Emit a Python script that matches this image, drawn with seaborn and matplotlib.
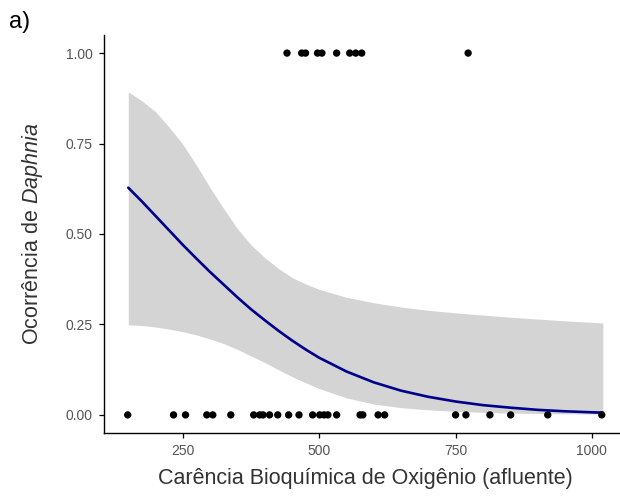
import numpy as np
import pandas as pd
import matplotlib
matplotlib.use("Agg")
import matplotlib.pyplot as plt
import seaborn as sns

# ---- data ----
cbo_absent = [149, 233, 255, 294, 305, 338, 380, 391, 397, 409, 424, 444, 463,
              488, 501, 509, 516, 532, 575, 580, 608, 620, 750, 769, 813, 851,
              919, 1018]
cbo_present = [441, 468, 475, 497, 505, 532, 556, 567, 578, 773]

fit_x = [150, 175, 200, 225, 250, 275, 300, 325, 350, 375, 400, 425, 450,
         475, 500, 550, 600, 650, 700, 750, 800, 850, 900, 950, 1020]
fit_y = [0.628, 0.59, 0.55, 0.51, 0.47, 0.432, 0.395, 0.36, 0.325, 0.292,
         0.262, 0.233, 0.206, 0.181, 0.158, 0.12, 0.09, 0.067, 0.05, 0.037,
         0.027, 0.02, 0.014, 0.01, 0.006]
ci_low = [0.249, 0.247, 0.243, 0.237, 0.23, 0.221, 0.21, 0.197, 0.181, 0.163,
          0.145, 0.125, 0.106, 0.089, 0.073, 0.047, 0.03, 0.02, 0.014, 0.01,
          0.007, 0.005, 0.004, 0.003, 0.002]
ci_high = [0.893, 0.868, 0.838, 0.795, 0.748, 0.69, 0.628, 0.57, 0.515,
           0.47, 0.435, 0.405, 0.38, 0.362, 0.347, 0.325, 0.31, 0.298, 0.289,
           0.282, 0.276, 0.27, 0.265, 0.26, 0.254]

x_ticks = [250, 500, 750, 1000]
y_ticks = [0.00, 0.25, 0.50, 0.75, 1.00]
y_tick_labels = ["0.00", "0.25", "0.50", "0.75", "1.00"]

pts = pd.DataFrame({
    "cbo": cbo_absent + cbo_present,
    "occ": [0] * len(cbo_absent) + [1] * len(cbo_present),
})
fit = pd.DataFrame({"x": fit_x, "y": fit_y, "lo": ci_low, "hi": ci_high})

sns.set_style("white")
plt.rcParams["font.family"] = ["Liberation Sans", "DejaVu Sans"]
plt.rcParams["mathtext.fontset"] = "custom"
plt.rcParams["mathtext.rm"] = "Liberation Sans"
plt.rcParams["mathtext.it"] = "Liberation Sans:italic"

fig = plt.figure(figsize=(6.2, 4.97), dpi=100)
ax = fig.add_axes([0.1677, 0.1288, 0.8429, 0.8008])

ax.fill_between(fit["x"], fit["lo"], fit["hi"], color="#D4D4D4", lw=0, zorder=1)
sns.lineplot(data=fit, x="x", y="y", ax=ax, color="#00008B", lw=1.9, zorder=2,
             sort=True)
sns.scatterplot(data=pts, x="cbo", y="occ", ax=ax, color="black", s=28,
                edgecolor="none", zorder=3, legend=False)

ax.set_xlim(105.5, 1063.5)
ax.set_ylim(-0.05, 1.05)
ax.set_xticks(x_ticks)
ax.set_xticklabels([str(t) for t in x_ticks])
ax.set_yticks(y_ticks)
ax.set_yticklabels(y_tick_labels)

for s in ["top", "right"]:
    ax.spines[s].set_visible(False)
for s in ["left", "bottom"]:
    ax.spines[s].set_color("black")
    ax.spines[s].set_linewidth(1.0)

ax.tick_params(axis="both", which="major", length=3.5, width=0.9,
               color="black", labelsize=10, labelcolor="#555555", pad=4.5,
               bottom=True, left=True)

ax.set_xlabel("Carência Bioquímica de Oxigênio (afluente)", fontsize=15.5,
              color="#333333")
ax.set_ylabel(r"Ocorrência de $\mathit{Daphnia}$", fontsize=15.5,
              color="#333333")
ax.xaxis.set_label_coords(0.501, -0.088)
ax.yaxis.set_label_coords(-0.113, 0.5)

fig.text(0.014, 0.955, "a)", fontsize=17, color="black", va="center",
         ha="left")

fig.savefig("out.png", dpi=100)
